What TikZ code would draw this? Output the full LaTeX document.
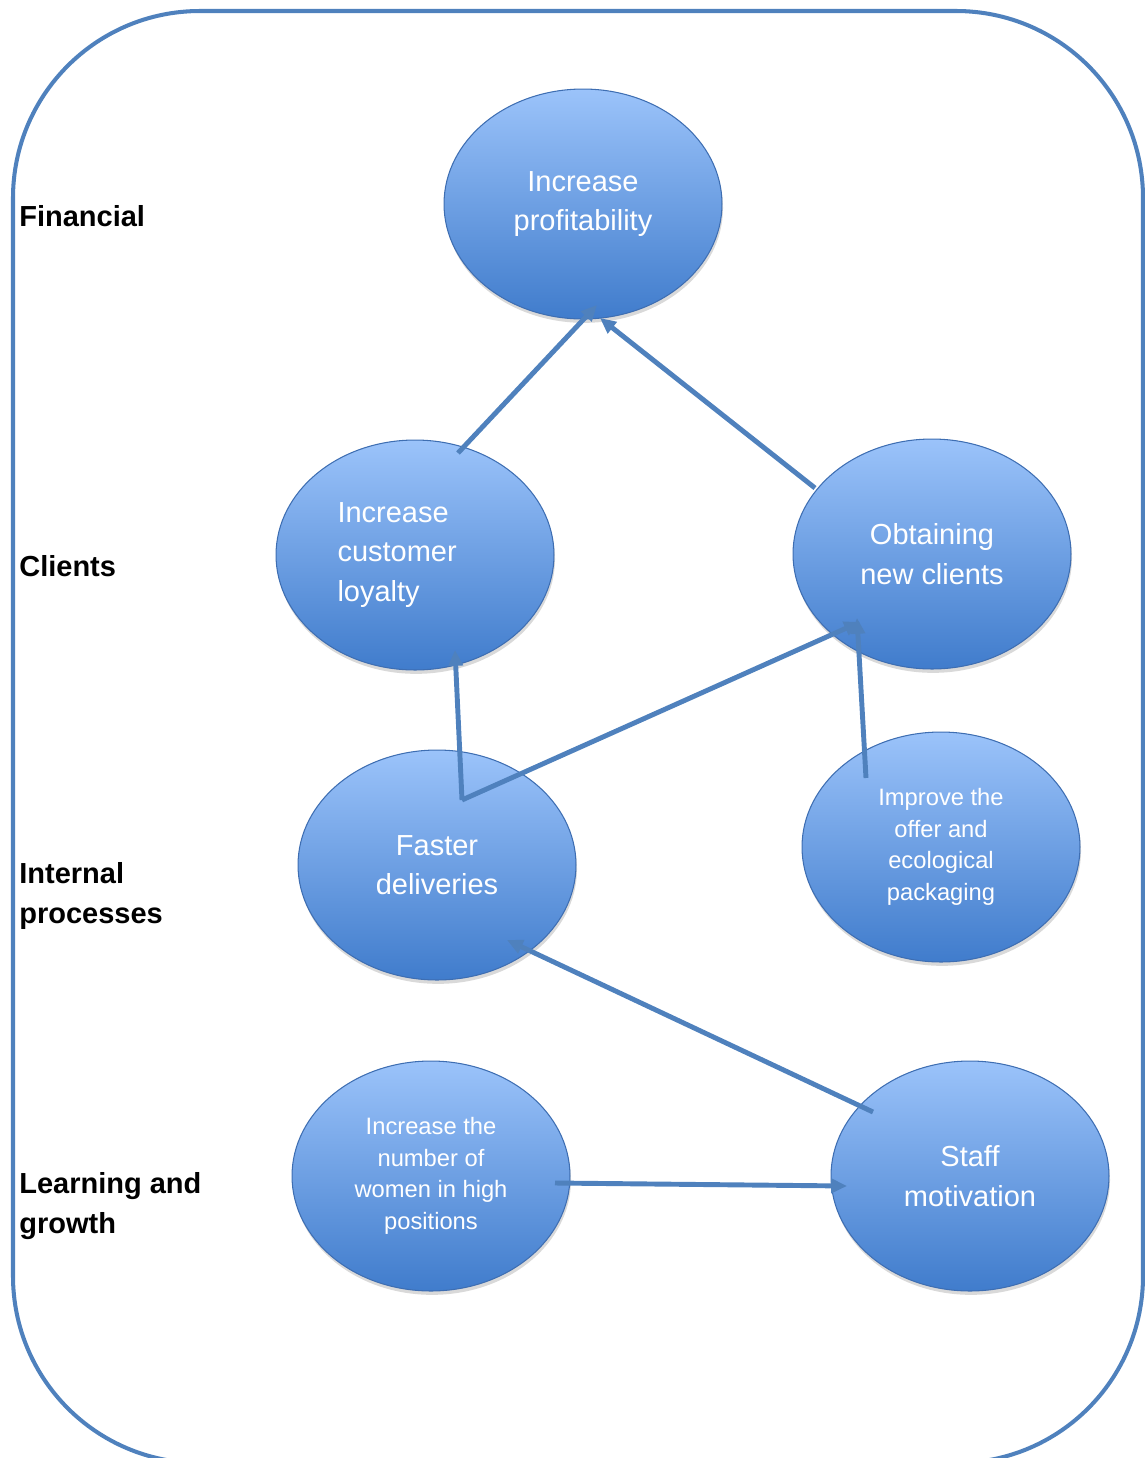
\documentclass[tikz,border=0pt]{standalone}
\usepackage{fontspec}
\setmainfont{Liberation Sans}
\usepackage{tikz}
\usetikzlibrary{arrows.meta,shapes.geometric,shadows}
\usepackage{xcolor}

\definecolor{linkblue}{RGB}{79,129,189}
\definecolor{goaltop}{RGB}{155,195,250}
\definecolor{goalbot}{RGB}{64,124,204}
\definecolor{goaledge}{RGB}{62,110,178}

\begin{document}
\begin{tikzpicture}[
  x=0.02cm, y=-0.02cm,
  goal/.style={ellipse, draw=goaledge, line width=0.6pt, inner sep=0pt,
               minimum width=5.56cm, minimum height=4.6cm,
               top color=goaltop, bottom color=goalbot, text=white, align=center,
               font=\fontsize{16.5}{22.5}\selectfont,
               drop shadow={opacity=0.3, shadow xshift=0.6pt, shadow yshift=-2.2pt}},
  small/.style={font=\fontsize{13.5}{18}\selectfont},
  persp/.style={anchor=west, inner sep=0pt, align=left,
                font=\fontsize{16.5}{22.4}\selectfont\bfseries},
  link/.style={draw=linkblue, line width=2.8pt,
               -{Triangle[length=9pt,width=8pt]}},
  ]
  \useasboundingbox (0,0) rectangle (1145,1458);

  % outer frame
  \draw[linkblue, line width=2.3pt, rounded corners=3.74cm] (13,11) rectangle (1143,1463);

  % perspectives
  \node[persp] (fin) at (19,216) {Financial};
  \node[persp] (cli) at (19,566) {Clients};
  \node[persp] (int) at (19,896) {Internal\\processes};
  \node[persp] (lea) at (19,1206) {Learning and\\growth};

  % objectives
  \node[goal] (profit) at (583,204) {Increase\\profitability};
  \node[goal, text width=3.1cm, align=left] (loyalty) at (415,555) {Increase\\customer\\loyalty};
  \node[goal] (newcli) at (932,554) {Obtaining\\new clients};
  \node[goal] (faster) at (437,865) {Faster\\deliveries};
  \node[goal, small] (improve) at (941,847) {Improve the\\offer and\\ecological\\packaging};
  \node[goal, small] (women) at (431,1176) {Increase the\\number of\\women in high\\positions};
  \node[goal] (staff) at (970,1176) {Staff\\motivation};

  \coordinate (fork) at ([shift={(25,-65)}]faster.center);

  % cause and effect links
  \draw[link] ([shift={(43,-102)}]loyalty.center) -- ([shift={(14,101)}]profit.center);
  \draw[link] ([shift={(-117,-66)}]newcli.center) -- ([shift={(17,114)}]profit.center);
  \draw[link] (fork) -- ([shift={(40,95)}]loyalty.center);
  \draw[link] (fork) -- ([shift={(-72,68)}]newcli.center);
  \draw[link] ([shift={(-75,-69)}]improve.center) -- ([shift={(-75,64)}]newcli.center);
  \draw[link] ([shift={(-97,-64)}]staff.center) -- ([shift={(70,75)}]faster.center);
  \draw[link] ([shift={(124,7)}]women.center) -- ([shift={(-123,10)}]staff.center);
\end{tikzpicture}
\end{document}
